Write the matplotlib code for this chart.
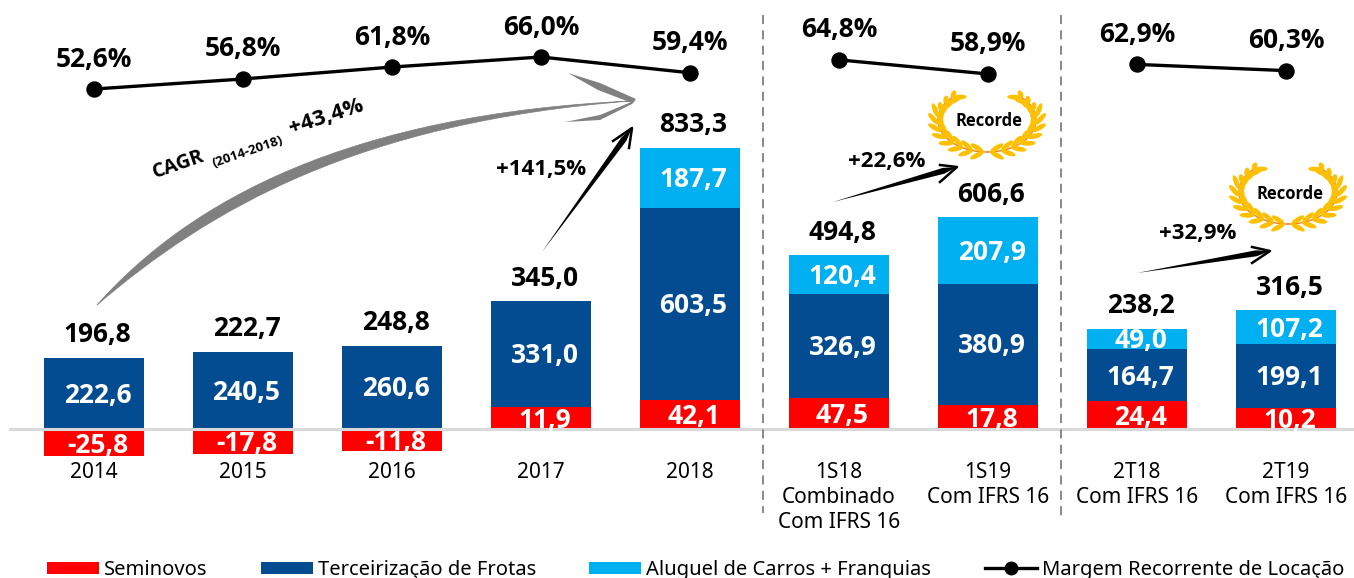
import numpy as np
import matplotlib
matplotlib.use("Agg")
import matplotlib.pyplot as plt
from matplotlib.lines import Line2D
from matplotlib.patches import Ellipse, PathPatch, Polygon
from matplotlib.path import Path

plt.rcParams['font.family'] = ['Noto Sans', 'DejaVu Sans']

anos = ["2014", "2015", "2016", "2017", "2018",
        "1S18\nCombinado\nCom IFRS 16", "1S19\nCom IFRS 16",
        "2T18\nCom IFRS 16", "2T19\nCom IFRS 16"]

# rotulos como impressos no grafico original
rot_seminovos = ["-25,8", "-17,8", "-11,8", "11,9", "42,1", "47,5", "17,8", "24,4", "10,2"]
rot_frotas = ["222,6", "240,5", "260,6", "331,0", "603,5", "326,9", "380,9", "164,7", "199,1"]
rot_aluguel = ["", "", "", "", "187,7", "120,4", "207,9", "49,0", "107,2"]
rot_total = ["196,8", "222,7", "248,8", "345,0", "833,3", "494,8", "606,6", "238,2", "316,5"]

# as barras vermelhas do original nao estao em escala, altura
seminovos = [-88, -79, -72, 69, 91, 97, 75, 85, 66]
frotas = [222.6, 240.5, 260.6, 331.0, 603.5, 326.9, 380.9, 164.7, 199.1]
aluguel = [0, 0, 0, 0, 187.7, 120.4, 207.9, 64, 107.2]

margem = [52.6, 56.8, 61.8, 66.0, 59.4, 64.8, 58.9, 62.9, 60.3]
rot_margem = ["52,6%", "56,8%", "61,8%", "66,0%", "59,4%", "64,8%", "58,9%", "62,9%", "60,3%"]
grupos_margem = [(0, 5), (5, 7), (7, 9)]

VERMELHO = "#ff0000"
AZUL = "#034c92"
CIANO = "#00b0f0"
BOLD = dict(family="Open Sans", fontweight="bold")

W, H = 1354, 578
fig = plt.figure(figsize=(W / 100, H / 100), dpi=100)

# eixo das barras: 149 px entre categorias, 0.318 px por unidade, base em y=428.5
ax = fig.add_axes([0, 0, 1, 1])
ax.set_xlim(-94 / 149, (W - 94) / 149)
ax.set_ylim(-(H - 428.5) / 0.318, 428.5 / 0.318)
ax.axis("off")

# eixo da margem
ax_m = fig.add_axes([0, 0, 1, 1], sharex=ax)
ax_m.set_ylim(66 - (H - 57) / 2.39, 66 + 57 / 2.39)
ax_m.axis("off")
ax_m.patch.set_alpha(0)

# eixo em pixels para anotacoes
deco = fig.add_axes([0, 0, 1, 1])
deco.set_xlim(0, W)
deco.set_ylim(H, 0)
deco.axis("off")
deco.patch.set_alpha(0)

x = np.arange(len(anos))
neg = np.array(seminovos) < 0
base_frotas = np.where(neg, 0, seminovos)
base_aluguel = base_frotas + np.array(frotas)
topo = base_aluguel + np.array(aluguel)

ax.bar(x, seminovos, 0.665, color=VERMELHO, label="Seminovos", zorder=2)
ax.bar(x, frotas, 0.665, bottom=base_frotas, color=AZUL, label="Terceirização de Frotas", zorder=2)
ax.bar(x, aluguel, 0.665, bottom=base_aluguel, color=CIANO, label="Aluguel de Carros + Franquias", zorder=2)
ax.axhline(0, color="#d9d9d9", lw=2.2, zorder=3, xmin=10 / W)

dx = 3.5 / 149
for i in x:
    ax.text(i + dx, seminovos[i] / 2 - 9, rot_seminovos[i], color="white", fontsize=19,
            ha="center", va="center", zorder=4, **BOLD)
    ax.text(i + dx, base_frotas[i] + frotas[i] / 2 - 6, rot_frotas[i], color="white", fontsize=19,
            ha="center", va="center", zorder=4, **BOLD)
    if rot_aluguel[i]:
        ax.text(i + dx, base_aluguel[i] + aluguel[i] / 2 - 6, rot_aluguel[i], color="white", fontsize=19,
                ha="center", va="center", zorder=4, **BOLD)
    ax.text(i + dx, topo[i] + 25 / 0.318 - 6, rot_total[i], color="black", fontsize=19,
            ha="center", va="center", zorder=4, **BOLD)
    ax.text(i, -(461.5 - 428.5) / 0.318, anos[i], color="black", fontsize=15, ha="center", va="top",
            linespacing=1.27, zorder=4)

for a, b in grupos_margem:
    ax_m.plot(x[a:b], margem[a:b], color="black", lw=2.4, marker="o", ms=10.8, zorder=5)
for i in x:
    ax_m.text(i, margem[i] + 30 / 2.39, rot_margem[i], color="black", fontsize=19,
              ha="center", va="center", **BOLD)

# separadores
for xs, fim in [(763, 513), (1061, 518)]:
    deco.plot([xs, xs], [15, fim], color="#7f7f7f", lw=1.3, ls=(0, (5, 3.5)))


def flecha(x0, y0, x1, y1, b1, b2, larg, cor):
    u = np.array([x1 - x0, y1 - y0], dtype=float)
    u = u / np.hypot(*u)
    n = np.array([-u[1], u[0]])
    p = np.array([x1, y1]) - u * 14
    deco.add_patch(Polygon([(x0, y0), p + n * larg / 2, (x1, y1), p - n * larg / 2], color=cor, lw=0, zorder=6))
    deco.plot([b1[0], x1, b2[0]], [b1[1], y1, b2[1]], color=cor, lw=1.8, zorder=6)


flecha(542, 252, 632, 128, (613, 141), (629, 148), 6, "black")
flecha(833, 202, 957, 167, (940, 165), (940, 182), 6, "black")
flecha(1137, 273, 1270, 251, (1252, 247), (1252, 263), 6, "black")

# seta grande cinza do CAGR
cinza = "#808080"
verts = [(97, 305), (190, 200), (350, 114), (631, 101), (360, 122), (210, 208), (97, 305)]
codes = [Path.MOVETO, Path.CURVE4, Path.CURVE4, Path.CURVE4, Path.CURVE4, Path.CURVE4, Path.CURVE4]
deco.add_patch(PathPatch(Path(verts, codes), facecolor=cinza, edgecolor=cinza, lw=0.5, zorder=6))
deco.add_patch(Polygon([(568, 73), (600, 83), (636, 99), (632, 103), (598, 90)], color=cinza, lw=0, zorder=6))
deco.add_patch(Polygon([(565, 122), (600, 115), (636, 100), (632, 104), (600, 120)], color=cinza, lw=0, zorder=6))

deco.text(178, 165, "CAGR", fontsize=14.3, rotation=19, ha="center", va="center", **BOLD)
deco.text(248, 152, "(2014-2018)", fontsize=9.5, rotation=19, ha="center", va="center", **BOLD)
deco.text(326, 117, "+43,4%", fontsize=16, rotation=18, ha="center", va="center", **BOLD)
deco.text(541, 169, "+141,5%", fontsize=16, ha="center", va="center", **BOLD)
deco.text(887, 161, "+22,6%", fontsize=16, ha="center", va="center", **BOLD)
deco.text(1198, 234, "+32,9%", fontsize=16, ha="center", va="center", **BOLD)


def coroa(cx, cy):
    a_el, b_el = 49, 32
    t = np.radians(np.linspace(-90, 47, 60))
    for lado in (-1, 1):
        deco.plot(cx + lado * a_el * np.cos(t), cy - b_el * np.sin(t), color="#f47b30", lw=1, zorder=6)
        for a in np.radians(np.linspace(-86, 44, 11)):
            px = cx + lado * a_el * np.cos(a)
            py = cy - b_el * np.sin(a)
            ang0 = np.degrees(np.arctan2(-b_el * np.cos(a), -lado * a_el * np.sin(a)))
            for s in (-1, 1):
                ang = ang0 + s * 30
                d = np.array([np.cos(np.radians(ang)), np.sin(np.radians(ang))])
                comp = 8 if s == lado and a > np.radians(15) else 15
                deco.add_patch(Ellipse(np.array([px, py]) + d * comp / 2, comp, 5, angle=ang,
                                       color="#ffc000", lw=0, zorder=6))


coroa(987, 120)
coroa(1288, 192)
deco.text(989, 121, "Recorde", fontsize=12, ha="center", va="center", zorder=7, **BOLD)
deco.text(1290, 194, "Recorde", fontsize=12, ha="center", va="center", zorder=7, **BOLD)

# legenda
h, l = ax.get_legend_handles_labels()
h.append(Line2D([], [], color="black", lw=2.4, marker="o", ms=9))
l.append("Margem Recorrente de Locação")
deco.legend(h, l, loc="center left", bbox_to_anchor=(47, 570), bbox_transform=deco.transData, ncols=4,
            frameon=False, fontsize=14.5, borderpad=0, borderaxespad=0, handlelength=2.58, handleheight=0.6,
            handletextpad=0.25, columnspacing=2.65)

fig.savefig("out.png", dpi=100)
